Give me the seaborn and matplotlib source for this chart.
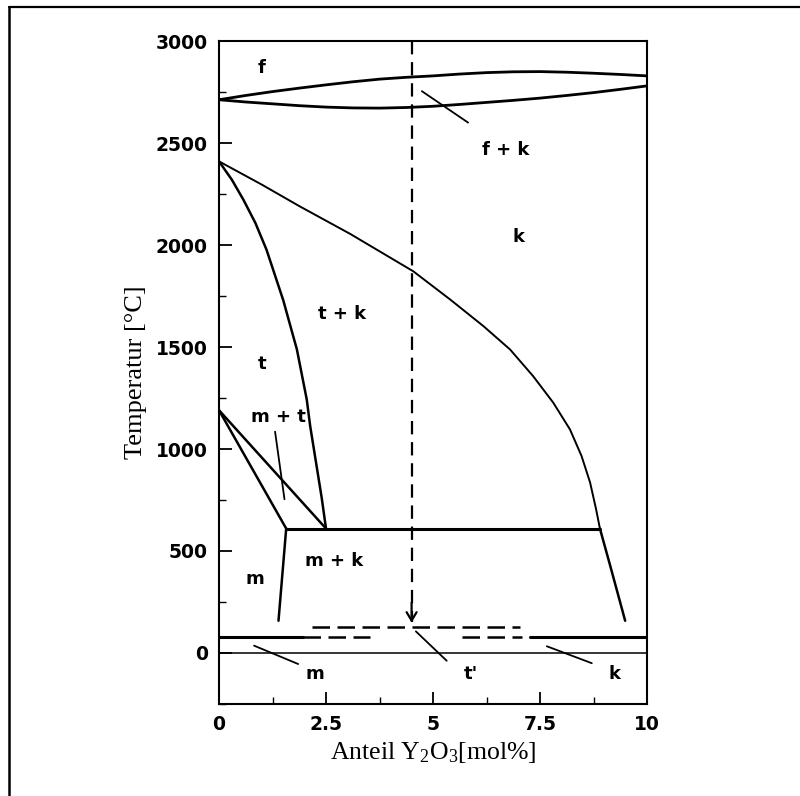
import matplotlib
matplotlib.use("Agg")
import matplotlib.pyplot as plt
import seaborn as sns
import pandas as pd
from matplotlib.lines import Line2D

# ---------------- data ----------------
lens_x = [0, 0.625, 1.25, 1.875, 2.5, 3.125, 3.75, 4.375, 5, 5.625, 6.25,
          6.875, 7.5, 8.125, 8.75, 9.375, 10]
liquidus_y = [2712, 2733, 2752, 2769, 2785, 2800, 2813, 2822, 2829, 2838, 2845,
              2849, 2850, 2847, 2842, 2836, 2829]
solidus_y = [2712, 2701, 2692, 2683, 2676, 2672, 2671, 2674, 2680, 2689, 2699,
             2709, 2720, 2733, 2747, 2763, 2780]

cubic_x = [0, 1.0, 1.89, 3.06, 4.54, 5.40, 6.18, 6.80, 7.34, 7.81, 8.20, 8.47,
           8.67, 8.81, 8.90]
cubic_y = [2410, 2296, 2189, 2055, 1871, 1733, 1602, 1488, 1357, 1227, 1096, 966,
           836, 705, 610]

tetra_x = [0, 0.3, 0.57, 0.85, 1.11, 1.5, 1.82, 2.05, 2.13, 2.28, 2.4, 2.5]
tetra_y = [2410, 2320, 2222, 2108, 1977, 1730, 1488, 1243, 1113, 917, 760, 610]

mt_upper_x = [0, 2.5]
mt_upper_y = [1190, 610]
mt_lower_x = [0, 1.57]
mt_lower_y = [1190, 610]

eutectoid_x = [1.57, 8.90]
eutectoid_y = [610, 610]

mono_x = [1.57, 1.39]
mono_y = [610, 158]
cub_low_x = [8.90, 9.14, 9.49]
cub_low_y = [610, 428, 158]

# low-temperature bars
t_prime_x = [2.17, 7.03]
t_prime_y = [129, 129]
solid_m_x = [0, 1.97]
solid_k_x = [7.27, 10]
dash_m_x = [1.97, 3.53]
dash_k_x = [5.67, 7.07]
bar_y = [77, 77]
zero_x = [0, 10]
zero_y = [0, 0]

cool_x = [4.5, 4.5]
cool_y = [3000, 150]

# leader lines
leaders = {
    "fk": ([4.74, 5.82], [2754, 2600]),
    "mt": ([1.31, 1.53], [1085, 754]),
    "m": ([0.82, 1.85], [36, -54]),
    "tp": ([4.60, 5.32], [106, -38]),
    "k": ([7.66, 8.71], [33, -50]),
}

# phase labels
phase_text = ["f", "f + k", "k", "t + k", "t", "m + t", "m + k", "m", "m", "t'", "k"]
phase_x = [1.0, 6.7, 7.0, 2.87, 1.0, 1.38, 2.69, 0.84, 2.24, 5.89, 9.25]
phase_y = [2868, 2467, 2041, 1664, 1419, 1155, 450, 362, -103, -103, -103]

x_ticks = [0, 2.5, 5, 7.5, 10]
x_ticklabels = ["0", "2.5", "5", "7.5", "10"]
y_ticks = [0, 500, 1000, 1500, 2000, 2500, 3000]

# ---------------- style ----------------
sns.set_theme(style="white")
plt.rcParams["font.family"] = ["DejaVu Sans"]
plt.rcParams["mathtext.fontset"] = "custom"
plt.rcParams["mathtext.rm"] = "Liberation Serif"
plt.rcParams["mathtext.it"] = "Liberation Serif:italic"

fig = plt.figure(figsize=(8.0, 7.96), dpi=100)
ax = fig.add_axes([219 / 800, 1 - 704 / 796, (647 - 219) / 800, (704 - 41) / 796])

K = "black"


def draw(x, y, lw=1.8, ls="-"):
    df = pd.DataFrame({"x": x, "y": y})
    sns.lineplot(data=df, x="x", y="y", ax=ax, color=K, lw=lw, sort=False,
                 estimator=None, linestyle=ls)


draw(lens_x, liquidus_y, 2.0)
draw(lens_x, solidus_y, 2.0)
draw(cubic_x, cubic_y, 1.4)
draw(tetra_x, tetra_y, 1.8)
draw(mt_upper_x, mt_upper_y, 1.8)
draw(mt_lower_x, mt_lower_y, 1.8)
draw(eutectoid_x, eutectoid_y, 2.2)
draw(mono_x, mono_y, 1.8)
draw(cub_low_x, cub_low_y, 1.8)

draw(t_prime_x, t_prime_y, 1.8, (0, (7, 3)))
draw(solid_m_x, bar_y, 2.2)
draw(solid_k_x, bar_y, 2.2)
draw(dash_m_x, bar_y, 1.8, (0, (7, 3)))
draw(dash_k_x, bar_y, 1.8, (0, (7, 3)))
draw(zero_x, zero_y, 1.1)

draw(cool_x, cool_y, 1.6, (0, (6, 3.5)))
ax.annotate("", xy=(cool_x[1], 135), xytext=(cool_x[1], 260),
            arrowprops=dict(arrowstyle="->,head_length=0.5,head_width=0.3",
                            color=K, lw=1.6))

for lx, ly in leaders.values():
    draw(lx, ly, 1.3)

for t, px, py in zip(phase_text, phase_x, phase_y):
    ax.text(px, py, t, ha="center", va="center", fontsize=13,
            fontweight="bold", color=K, family="DejaVu Sans")

ax.set_xlim(0, 10)
ax.set_ylim(-250, 3000)
ax.set_xticks(x_ticks)
ax.set_xticklabels(x_ticklabels)
ax.set_yticks(y_ticks)
ax.set_xticks([1.25, 3.75, 6.25, 8.75], minor=True)
ax.set_yticks([-250, 250, 750, 1250, 1750, 2250, 2750], minor=True)
ax.tick_params(which="both", direction="in", colors=K, left=True, bottom=True,
               right=False, top=False)
ax.tick_params(which="major", length=9, width=1.3, pad=8, labelsize=13.5)
ax.tick_params(which="minor", length=5, width=1.0)
for lab in ax.get_xticklabels() + ax.get_yticklabels():
    lab.set_fontweight("bold")
    lab.set_family("DejaVu Sans")

for s in ax.spines.values():
    s.set_color(K)
    s.set_linewidth(1.5)

ax.set_xlabel("Anteil Y$_2$O$_3$[mol%]", fontsize=18.5, family="Liberation Serif",
              color=K, labelpad=4)
ax.set_ylabel("Temperatur [°C]", fontsize=19, family="Liberation Serif",
              color=K, labelpad=6)

# outer frame lines (top and left)
fig.add_artist(Line2D([9 / 800, 1.0], [1 - 7 / 796, 1 - 7 / 796],
                      transform=fig.transFigure, color=K, lw=1.6))
fig.add_artist(Line2D([9 / 800, 9 / 800], [0, 1 - 7 / 796],
                      transform=fig.transFigure, color=K, lw=1.8))

fig.savefig("out.png", dpi=100, facecolor="white")
